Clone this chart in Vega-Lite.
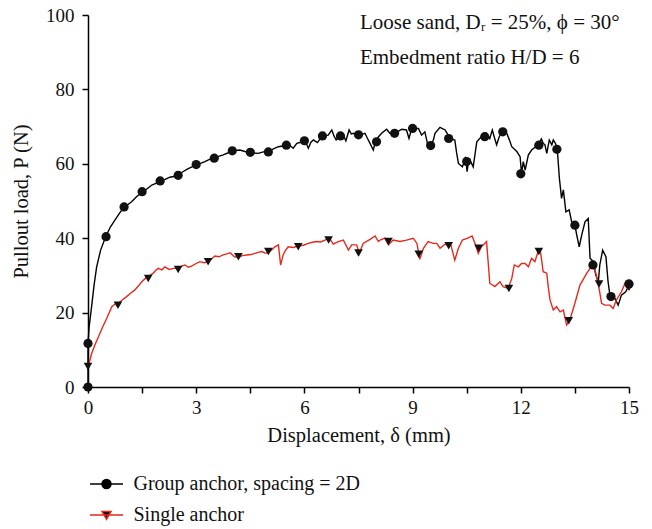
{
  "$schema": "https://vega.github.io/schema/vega-lite/v6.json",
  "width": 541,
  "height": 372,
  "autosize": {"type": "none"},
  "padding": {"left": 88, "top": 15, "right": 23, "bottom": 142},
  "background": "white",
  "config": {
    "font": "Liberation Serif",
    "view": {"stroke": null},
    "axis": {
      "grid": false,
      "domainColor": "#000",
      "domainWidth": 1.5,
      "tickColor": "#000",
      "tickWidth": 1.5,
      "tickSize": 6,
      "labelFont": "Liberation Serif",
      "labelFontSize": 19,
      "labelColor": "#111",
      "labelFlush": false,
      "titleFont": "Liberation Serif",
      "titleFontSize": 20.5,
      "titleFontWeight": "normal",
      "titleColor": "#111",
      "labelOverlap": false
    },
    "legend": {
      "labelFont": "Liberation Serif",
      "labelFontSize": 20,
      "labelColor": "#111",
      "labelLimit": 400
    }
  },
  "datasets": {
    "lines": [
      {"s":"Group anchor, spacing = 2D","x":0,"y":0},{"s":"Group anchor, spacing = 2D","x":0,"y":11.7},{"s":"Group anchor, spacing = 2D","x":0.03,"y":16},{"s":"Group anchor, spacing = 2D","x":0.1,"y":21.6},{"s":"Group anchor, spacing = 2D","x":0.17,"y":27.5},{"s":"Group anchor, spacing = 2D","x":0.24,"y":32.3},{"s":"Group anchor, spacing = 2D","x":0.35,"y":36.8},{"s":"Group anchor, spacing = 2D","x":0.49,"y":40.4},{"s":"Group anchor, spacing = 2D","x":0.62,"y":43},{"s":"Group anchor, spacing = 2D","x":0.75,"y":44.9},{"s":"Group anchor, spacing = 2D","x":0.88,"y":46.8},{"s":"Group anchor, spacing = 2D","x":1.0,"y":48.3},{"s":"Group anchor, spacing = 2D","x":1.1,"y":49},{"s":"Group anchor, spacing = 2D","x":1.21,"y":49.8},{"s":"Group anchor, spacing = 2D","x":1.35,"y":51.2},{"s":"Group anchor, spacing = 2D","x":1.5,"y":52.3},{"s":"Group anchor, spacing = 2D","x":1.64,"y":53.3},{"s":"Group anchor, spacing = 2D","x":1.77,"y":54.3},{"s":"Group anchor, spacing = 2D","x":1.9,"y":54.8},{"s":"Group anchor, spacing = 2D","x":2.01,"y":55.4},{"s":"Group anchor, spacing = 2D","x":2.14,"y":55.8},{"s":"Group anchor, spacing = 2D","x":2.27,"y":56.4},{"s":"Group anchor, spacing = 2D","x":2.38,"y":56.6},{"s":"Group anchor, spacing = 2D","x":2.5,"y":57.0},{"s":"Group anchor, spacing = 2D","x":2.62,"y":57.8},{"s":"Group anchor, spacing = 2D","x":2.74,"y":58.5},{"s":"Group anchor, spacing = 2D","x":2.88,"y":59.2},{"s":"Group anchor, spacing = 2D","x":3.01,"y":59.9},{"s":"Group anchor, spacing = 2D","x":3.12,"y":60.1},{"s":"Group anchor, spacing = 2D","x":3.24,"y":60.6},{"s":"Group anchor, spacing = 2D","x":3.37,"y":61.2},{"s":"Group anchor, spacing = 2D","x":3.5,"y":61.5},{"s":"Group anchor, spacing = 2D","x":3.62,"y":62.0},{"s":"Group anchor, spacing = 2D","x":3.75,"y":62.4},{"s":"Group anchor, spacing = 2D","x":3.87,"y":62.9},{"s":"Group anchor, spacing = 2D","x":3.98,"y":63.4},{"s":"Group anchor, spacing = 2D","x":4.1,"y":63.6},{"s":"Group anchor, spacing = 2D","x":4.21,"y":63.7},{"s":"Group anchor, spacing = 2D","x":4.35,"y":63.3},{"s":"Group anchor, spacing = 2D","x":4.49,"y":63.1},{"s":"Group anchor, spacing = 2D","x":4.6,"y":62.9},{"s":"Group anchor, spacing = 2D","x":4.72,"y":62.8},{"s":"Group anchor, spacing = 2D","x":4.86,"y":63.2},{"s":"Group anchor, spacing = 2D","x":5.0,"y":63.3},{"s":"Group anchor, spacing = 2D","x":5.14,"y":64.0},{"s":"Group anchor, spacing = 2D","x":5.28,"y":64.6},{"s":"Group anchor, spacing = 2D","x":5.4,"y":64.8},{"s":"Group anchor, spacing = 2D","x":5.51,"y":65.1},{"s":"Group anchor, spacing = 2D","x":5.6,"y":64.9},{"s":"Group anchor, spacing = 2D","x":5.69,"y":64.2},{"s":"Group anchor, spacing = 2D","x":5.79,"y":65.5},{"s":"Group anchor, spacing = 2D","x":5.9,"y":65.8},{"s":"Group anchor, spacing = 2D","x":6.02,"y":66.2},{"s":"Group anchor, spacing = 2D","x":6.11,"y":64.2},{"s":"Group anchor, spacing = 2D","x":6.18,"y":65.8},{"s":"Group anchor, spacing = 2D","x":6.25,"y":66.4},{"s":"Group anchor, spacing = 2D","x":6.36,"y":65.7},{"s":"Group anchor, spacing = 2D","x":6.45,"y":66.9},{"s":"Group anchor, spacing = 2D","x":6.51,"y":67.5},{"s":"Group anchor, spacing = 2D","x":6.66,"y":67.7},{"s":"Group anchor, spacing = 2D","x":6.76,"y":69.1},{"s":"Group anchor, spacing = 2D","x":6.82,"y":67.5},{"s":"Group anchor, spacing = 2D","x":6.88,"y":66.4},{"s":"Group anchor, spacing = 2D","x":6.95,"y":67.4},{"s":"Group anchor, spacing = 2D","x":7.03,"y":67.7},{"s":"Group anchor, spacing = 2D","x":7.1,"y":67.2},{"s":"Group anchor, spacing = 2D","x":7.15,"y":66.2},{"s":"Group anchor, spacing = 2D","x":7.24,"y":69.1},{"s":"Group anchor, spacing = 2D","x":7.3,"y":68.0},{"s":"Group anchor, spacing = 2D","x":7.37,"y":68.2},{"s":"Group anchor, spacing = 2D","x":7.45,"y":67.5},{"s":"Group anchor, spacing = 2D","x":7.52,"y":67.7},{"s":"Group anchor, spacing = 2D","x":7.6,"y":67.9},{"s":"Group anchor, spacing = 2D","x":7.68,"y":68.2},{"s":"Group anchor, spacing = 2D","x":7.75,"y":66.8},{"s":"Group anchor, spacing = 2D","x":7.82,"y":65.5},{"s":"Group anchor, spacing = 2D","x":7.91,"y":63.7},{"s":"Group anchor, spacing = 2D","x":7.96,"y":65.5},{"s":"Group anchor, spacing = 2D","x":8.0,"y":66.4},{"s":"Group anchor, spacing = 2D","x":8.05,"y":67.2},{"s":"Group anchor, spacing = 2D","x":8.14,"y":68.2},{"s":"Group anchor, spacing = 2D","x":8.28,"y":69.3},{"s":"Group anchor, spacing = 2D","x":8.37,"y":68.2},{"s":"Group anchor, spacing = 2D","x":8.44,"y":68.0},{"s":"Group anchor, spacing = 2D","x":8.51,"y":68.2},{"s":"Group anchor, spacing = 2D","x":8.6,"y":68.7},{"s":"Group anchor, spacing = 2D","x":8.7,"y":69.3},{"s":"Group anchor, spacing = 2D","x":8.83,"y":69.1},{"s":"Group anchor, spacing = 2D","x":8.9,"y":66.8},{"s":"Group anchor, spacing = 2D","x":8.99,"y":70.0},{"s":"Group anchor, spacing = 2D","x":9.07,"y":69.6},{"s":"Group anchor, spacing = 2D","x":9.16,"y":69.5},{"s":"Group anchor, spacing = 2D","x":9.25,"y":67.7},{"s":"Group anchor, spacing = 2D","x":9.34,"y":68.6},{"s":"Group anchor, spacing = 2D","x":9.42,"y":65.1},{"s":"Group anchor, spacing = 2D","x":9.51,"y":64.8},{"s":"Group anchor, spacing = 2D","x":9.58,"y":66.5},{"s":"Group anchor, spacing = 2D","x":9.62,"y":68.2},{"s":"Group anchor, spacing = 2D","x":9.76,"y":69.8},{"s":"Group anchor, spacing = 2D","x":9.9,"y":69.1},{"s":"Group anchor, spacing = 2D","x":9.97,"y":68.0},{"s":"Group anchor, spacing = 2D","x":10.04,"y":66.8},{"s":"Group anchor, spacing = 2D","x":10.17,"y":66.4},{"s":"Group anchor, spacing = 2D","x":10.22,"y":63},{"s":"Group anchor, spacing = 2D","x":10.27,"y":60.1},{"s":"Group anchor, spacing = 2D","x":10.38,"y":59.2},{"s":"Group anchor, spacing = 2D","x":10.43,"y":60.5},{"s":"Group anchor, spacing = 2D","x":10.47,"y":61.9},{"s":"Group anchor, spacing = 2D","x":10.51,"y":57.9},{"s":"Group anchor, spacing = 2D","x":10.55,"y":60.5},{"s":"Group anchor, spacing = 2D","x":10.59,"y":61.0},{"s":"Group anchor, spacing = 2D","x":10.68,"y":59.2},{"s":"Group anchor, spacing = 2D","x":10.73,"y":62.5},{"s":"Group anchor, spacing = 2D","x":10.78,"y":65.9},{"s":"Group anchor, spacing = 2D","x":10.91,"y":67.3},{"s":"Group anchor, spacing = 2D","x":11.05,"y":68.2},{"s":"Group anchor, spacing = 2D","x":11.14,"y":66.8},{"s":"Group anchor, spacing = 2D","x":11.21,"y":69.1},{"s":"Group anchor, spacing = 2D","x":11.27,"y":67.0},{"s":"Group anchor, spacing = 2D","x":11.33,"y":65.1},{"s":"Group anchor, spacing = 2D","x":11.4,"y":67.2},{"s":"Group anchor, spacing = 2D","x":11.47,"y":68.6},{"s":"Group anchor, spacing = 2D","x":11.54,"y":68.5},{"s":"Group anchor, spacing = 2D","x":11.61,"y":68.2},{"s":"Group anchor, spacing = 2D","x":11.68,"y":66.5},{"s":"Group anchor, spacing = 2D","x":11.75,"y":64.6},{"s":"Group anchor, spacing = 2D","x":11.89,"y":63.3},{"s":"Group anchor, spacing = 2D","x":11.98,"y":61.9},{"s":"Group anchor, spacing = 2D","x":12.02,"y":57.4},{"s":"Group anchor, spacing = 2D","x":12.07,"y":60.6},{"s":"Group anchor, spacing = 2D","x":12.12,"y":58.3},{"s":"Group anchor, spacing = 2D","x":12.21,"y":62.4},{"s":"Group anchor, spacing = 2D","x":12.3,"y":63.7},{"s":"Group anchor, spacing = 2D","x":12.4,"y":64.5},{"s":"Group anchor, spacing = 2D","x":12.48,"y":65.1},{"s":"Group anchor, spacing = 2D","x":12.57,"y":66.7},{"s":"Group anchor, spacing = 2D","x":12.62,"y":65.5},{"s":"Group anchor, spacing = 2D","x":12.67,"y":65.1},{"s":"Group anchor, spacing = 2D","x":12.72,"y":62.8},{"s":"Group anchor, spacing = 2D","x":12.79,"y":66.4},{"s":"Group anchor, spacing = 2D","x":12.86,"y":65.1},{"s":"Group anchor, spacing = 2D","x":12.9,"y":66.4},{"s":"Group anchor, spacing = 2D","x":12.96,"y":65.5},{"s":"Group anchor, spacing = 2D","x":13.01,"y":64.2},{"s":"Group anchor, spacing = 2D","x":13.07,"y":56.1},{"s":"Group anchor, spacing = 2D","x":13.13,"y":50.7},{"s":"Group anchor, spacing = 2D","x":13.18,"y":53.0},{"s":"Group anchor, spacing = 2D","x":13.25,"y":47.1},{"s":"Group anchor, spacing = 2D","x":13.34,"y":47.6},{"s":"Group anchor, spacing = 2D","x":13.41,"y":44.4},{"s":"Group anchor, spacing = 2D","x":13.5,"y":43.5},{"s":"Group anchor, spacing = 2D","x":13.55,"y":40.9},{"s":"Group anchor, spacing = 2D","x":13.62,"y":37.7},{"s":"Group anchor, spacing = 2D","x":13.69,"y":40.9},{"s":"Group anchor, spacing = 2D","x":13.78,"y":44.4},{"s":"Group anchor, spacing = 2D","x":13.87,"y":45.3},{"s":"Group anchor, spacing = 2D","x":13.92,"y":34.6},{"s":"Group anchor, spacing = 2D","x":14.01,"y":33.7},{"s":"Group anchor, spacing = 2D","x":14.08,"y":30.1},{"s":"Group anchor, spacing = 2D","x":14.15,"y":28.3},{"s":"Group anchor, spacing = 2D","x":14.19,"y":32.8},{"s":"Group anchor, spacing = 2D","x":14.27,"y":36.8},{"s":"Group anchor, spacing = 2D","x":14.36,"y":35.0},{"s":"Group anchor, spacing = 2D","x":14.42,"y":28.3},{"s":"Group anchor, spacing = 2D","x":14.47,"y":24.7},{"s":"Group anchor, spacing = 2D","x":14.61,"y":23.8},{"s":"Group anchor, spacing = 2D","x":14.7,"y":22.0},{"s":"Group anchor, spacing = 2D","x":14.79,"y":24.7},{"s":"Group anchor, spacing = 2D","x":14.91,"y":25.6},{"s":"Group anchor, spacing = 2D","x":15.0,"y":27.4},
      {"s":"Single anchor","x":0,"y":5.2},{"s":"Single anchor","x":0.1,"y":9.0},{"s":"Single anchor","x":0.2,"y":11.5},{"s":"Single anchor","x":0.29,"y":13.5},{"s":"Single anchor","x":0.4,"y":16},{"s":"Single anchor","x":0.52,"y":18.5},{"s":"Single anchor","x":0.66,"y":21.6},{"s":"Single anchor","x":0.75,"y":22.3},{"s":"Single anchor","x":0.84,"y":22.5},{"s":"Single anchor","x":0.95,"y":23.4},{"s":"Single anchor","x":1.07,"y":24.3},{"s":"Single anchor","x":1.18,"y":25.2},{"s":"Single anchor","x":1.3,"y":26.1},{"s":"Single anchor","x":1.4,"y":27.2},{"s":"Single anchor","x":1.49,"y":28.3},{"s":"Single anchor","x":1.57,"y":29.0},{"s":"Single anchor","x":1.65,"y":29.7},{"s":"Single anchor","x":1.73,"y":30.1},{"s":"Single anchor","x":1.81,"y":30.6},{"s":"Single anchor","x":1.88,"y":31.4},{"s":"Single anchor","x":1.95,"y":31.9},{"s":"Single anchor","x":2.05,"y":31.5},{"s":"Single anchor","x":2.13,"y":32.3},{"s":"Single anchor","x":2.25,"y":31.6},{"s":"Single anchor","x":2.37,"y":31.9},{"s":"Single anchor","x":2.5,"y":31.9},{"s":"Single anchor","x":2.6,"y":32.5},{"s":"Single anchor","x":2.69,"y":32.8},{"s":"Single anchor","x":2.78,"y":32.2},{"s":"Single anchor","x":2.87,"y":32.5},{"s":"Single anchor","x":3.0,"y":33.2},{"s":"Single anchor","x":3.1,"y":33.7},{"s":"Single anchor","x":3.22,"y":33.4},{"s":"Single anchor","x":3.34,"y":33.7},{"s":"Single anchor","x":3.43,"y":34.5},{"s":"Single anchor","x":3.52,"y":35.2},{"s":"Single anchor","x":3.63,"y":35.0},{"s":"Single anchor","x":3.75,"y":35.5},{"s":"Single anchor","x":3.85,"y":35.8},{"s":"Single anchor","x":3.94,"y":36.1},{"s":"Single anchor","x":4.06,"y":35.0},{"s":"Single anchor","x":4.17,"y":34.9},{"s":"Single anchor","x":4.28,"y":35.3},{"s":"Single anchor","x":4.4,"y":35.5},{"s":"Single anchor","x":4.52,"y":35.6},{"s":"Single anchor","x":4.63,"y":35.9},{"s":"Single anchor","x":4.72,"y":36.2},{"s":"Single anchor","x":4.82,"y":36.4},{"s":"Single anchor","x":4.91,"y":36.0},{"s":"Single anchor","x":5.0,"y":36.1},{"s":"Single anchor","x":5.09,"y":36.8},{"s":"Single anchor","x":5.18,"y":37.7},{"s":"Single anchor","x":5.28,"y":38.2},{"s":"Single anchor","x":5.34,"y":32.8},{"s":"Single anchor","x":5.41,"y":35.5},{"s":"Single anchor","x":5.48,"y":36.8},{"s":"Single anchor","x":5.55,"y":37.7},{"s":"Single anchor","x":5.69,"y":37.5},{"s":"Single anchor","x":5.83,"y":37.9},{"s":"Single anchor","x":5.97,"y":38.1},{"s":"Single anchor","x":6.11,"y":38.6},{"s":"Single anchor","x":6.22,"y":38.9},{"s":"Single anchor","x":6.34,"y":39.1},{"s":"Single anchor","x":6.45,"y":39.0},{"s":"Single anchor","x":6.57,"y":39.5},{"s":"Single anchor","x":6.69,"y":40.0},{"s":"Single anchor","x":6.8,"y":38.4},{"s":"Single anchor","x":6.94,"y":39.1},{"s":"Single anchor","x":7.08,"y":39.5},{"s":"Single anchor","x":7.22,"y":36.8},{"s":"Single anchor","x":7.31,"y":38.2},{"s":"Single anchor","x":7.45,"y":38.2},{"s":"Single anchor","x":7.52,"y":35.9},{"s":"Single anchor","x":7.63,"y":38.6},{"s":"Single anchor","x":7.82,"y":39.7},{"s":"Single anchor","x":7.96,"y":40.6},{"s":"Single anchor","x":8.05,"y":39.1},{"s":"Single anchor","x":8.1,"y":39.5},{"s":"Single anchor","x":8.23,"y":40.0},{"s":"Single anchor","x":8.33,"y":38.2},{"s":"Single anchor","x":8.46,"y":39.5},{"s":"Single anchor","x":8.65,"y":39.1},{"s":"Single anchor","x":8.83,"y":39.5},{"s":"Single anchor","x":9.02,"y":40.0},{"s":"Single anchor","x":9.12,"y":38.6},{"s":"Single anchor","x":9.2,"y":34.3},{"s":"Single anchor","x":9.3,"y":37.3},{"s":"Single anchor","x":9.43,"y":39.1},{"s":"Single anchor","x":9.57,"y":38.6},{"s":"Single anchor","x":9.67,"y":38.6},{"s":"Single anchor","x":9.76,"y":37.3},{"s":"Single anchor","x":9.9,"y":38.4},{"s":"Single anchor","x":10.06,"y":38.2},{"s":"Single anchor","x":10.12,"y":36},{"s":"Single anchor","x":10.17,"y":34.1},{"s":"Single anchor","x":10.27,"y":37.3},{"s":"Single anchor","x":10.38,"y":39.5},{"s":"Single anchor","x":10.53,"y":40.0},{"s":"Single anchor","x":10.65,"y":40.6},{"s":"Single anchor","x":10.73,"y":38.6},{"s":"Single anchor","x":10.82,"y":35.9},{"s":"Single anchor","x":10.91,"y":37.7},{"s":"Single anchor","x":11.05,"y":39.1},{"s":"Single anchor","x":11.1,"y":33},{"s":"Single anchor","x":11.14,"y":27.9},{"s":"Single anchor","x":11.28,"y":27.0},{"s":"Single anchor","x":11.42,"y":28.3},{"s":"Single anchor","x":11.51,"y":27.0},{"s":"Single anchor","x":11.65,"y":26.5},{"s":"Single anchor","x":11.75,"y":29.2},{"s":"Single anchor","x":11.82,"y":32.8},{"s":"Single anchor","x":11.93,"y":32.3},{"s":"Single anchor","x":12.02,"y":33.2},{"s":"Single anchor","x":12.12,"y":33.2},{"s":"Single anchor","x":12.21,"y":32.3},{"s":"Single anchor","x":12.3,"y":34.6},{"s":"Single anchor","x":12.39,"y":33.7},{"s":"Single anchor","x":12.48,"y":36.4},{"s":"Single anchor","x":12.55,"y":36.1},{"s":"Single anchor","x":12.62,"y":31.0},{"s":"Single anchor","x":12.72,"y":30.6},{"s":"Single anchor","x":12.76,"y":27},{"s":"Single anchor","x":12.81,"y":23.4},{"s":"Single anchor","x":12.9,"y":20.7},{"s":"Single anchor","x":12.99,"y":21.6},{"s":"Single anchor","x":13.09,"y":20.2},{"s":"Single anchor","x":13.18,"y":20.7},{"s":"Single anchor","x":13.27,"y":16.7},{"s":"Single anchor","x":13.36,"y":18.0},{"s":"Single anchor","x":13.5,"y":22.5},{"s":"Single anchor","x":13.64,"y":27.4},{"s":"Single anchor","x":13.83,"y":30.6},{"s":"Single anchor","x":13.99,"y":32.8},{"s":"Single anchor","x":14.08,"y":30.6},{"s":"Single anchor","x":14.17,"y":26.5},{"s":"Single anchor","x":14.24,"y":22.5},{"s":"Single anchor","x":14.33,"y":22.0},{"s":"Single anchor","x":14.47,"y":22.0},{"s":"Single anchor","x":14.56,"y":21.1},{"s":"Single anchor","x":14.65,"y":23.4},{"s":"Single anchor","x":14.79,"y":25.6},{"s":"Single anchor","x":14.91,"y":28.3},{"s":"Single anchor","x":14.97,"y":26.1}
    ],
    "markers": [
      {"s":"Group anchor, spacing = 2D","x":0,"y":0},{"s":"Group anchor, spacing = 2D","x":0,"y":11.7},{"s":"Group anchor, spacing = 2D","x":0.5,"y":40.4},{"s":"Group anchor, spacing = 2D","x":1.0,"y":48.4},{"s":"Group anchor, spacing = 2D","x":1.5,"y":52.5},{"s":"Group anchor, spacing = 2D","x":2.0,"y":55.4},{"s":"Group anchor, spacing = 2D","x":2.5,"y":56.9},{"s":"Group anchor, spacing = 2D","x":3.0,"y":59.8},{"s":"Group anchor, spacing = 2D","x":3.5,"y":61.5},{"s":"Group anchor, spacing = 2D","x":4.0,"y":63.5},{"s":"Group anchor, spacing = 2D","x":4.5,"y":63.1},{"s":"Group anchor, spacing = 2D","x":5.0,"y":63.2},{"s":"Group anchor, spacing = 2D","x":5.5,"y":65.0},{"s":"Group anchor, spacing = 2D","x":6.0,"y":66.2},{"s":"Group anchor, spacing = 2D","x":6.5,"y":67.5},{"s":"Group anchor, spacing = 2D","x":7.0,"y":67.5},{"s":"Group anchor, spacing = 2D","x":7.5,"y":67.8},{"s":"Group anchor, spacing = 2D","x":8.0,"y":65.9},{"s":"Group anchor, spacing = 2D","x":8.5,"y":68.2},{"s":"Group anchor, spacing = 2D","x":9.0,"y":69.5},{"s":"Group anchor, spacing = 2D","x":9.5,"y":64.9},{"s":"Group anchor, spacing = 2D","x":10.0,"y":66.8},{"s":"Group anchor, spacing = 2D","x":10.5,"y":60.6},{"s":"Group anchor, spacing = 2D","x":11.0,"y":67.3},{"s":"Group anchor, spacing = 2D","x":11.5,"y":68.6},{"s":"Group anchor, spacing = 2D","x":12.0,"y":57.3},{"s":"Group anchor, spacing = 2D","x":12.5,"y":65.0},{"s":"Group anchor, spacing = 2D","x":13.0,"y":63.9},{"s":"Group anchor, spacing = 2D","x":13.5,"y":43.5},{"s":"Group anchor, spacing = 2D","x":14.0,"y":32.8},{"s":"Group anchor, spacing = 2D","x":14.5,"y":24.3},{"s":"Group anchor, spacing = 2D","x":15.0,"y":27.7},
      {"s":"Single anchor","x":0,"y":5.5},{"s":"Single anchor","x":0.83,"y":22.0},{"s":"Single anchor","x":1.67,"y":29.2},{"s":"Single anchor","x":2.5,"y":31.6},{"s":"Single anchor","x":3.33,"y":33.7},{"s":"Single anchor","x":4.17,"y":35.0},{"s":"Single anchor","x":5.0,"y":36.4},{"s":"Single anchor","x":5.83,"y":37.7},{"s":"Single anchor","x":6.67,"y":39.5},{"s":"Single anchor","x":7.5,"y":36.0},{"s":"Single anchor","x":8.33,"y":39.1},{"s":"Single anchor","x":9.17,"y":35.7},{"s":"Single anchor","x":10.0,"y":38.0},{"s":"Single anchor","x":10.83,"y":37.3},{"s":"Single anchor","x":11.67,"y":26.5},{"s":"Single anchor","x":12.5,"y":36.4},{"s":"Single anchor","x":13.33,"y":17.8},{"s":"Single anchor","x":14.17,"y":27.7},{"s":"Single anchor","x":15.0,"y":26.8}
    ],
    "notes": [
      {"t":"Loose sand, Dᵣ = 25%, ϕ = 30°","x":7.54,"y":97.8},
      {"t":"Embedment ratio H/D = 6","x":7.54,"y":88.5}
    ]
  },
  "layer": [
    {
      "data": {"name": "lines"},
      "mark": {"type": "line", "strokeWidth": 1.4, "interpolate": "linear"},
      "encoding": {
        "x": {"field": "x", "type": "quantitative", "scale": {"domain": [0, 15], "nice": false, "zero": false},
          "axis": {"title": "Displacement, δ (mm)", "values": [0,1.5,3,4.5,6,7.5,9,10.5,12,13.5,15], "labelExpr": "datum.value % 3 === 0 ? datum.label : ''", "labelPadding": 5, "titleY": 38, "titleBaseline": "top"}},
        "y": {"field": "y", "type": "quantitative", "scale": {"domain": [0, 100], "nice": false},
          "axis": {"title": "Pullout load, P (N)", "values": [0,10,20,30,40,50,60,70,80,90,100], "labelExpr": "datum.value % 20 === 0 ? datum.label : ''", "labelPadding": 8, "titleX": -57, "titleY": 186}},
        "color": {"field": "s", "type": "nominal",
          "scale": {"domain": ["Group anchor, spacing = 2D", "Single anchor"], "range": ["#000000", "#e5291c"]},
          "legend": {
            "title": null, "orient": "none", "legendX": 7.5, "legendY": 458, "direction": "vertical",
            "symbolSize": 400, "symbolStrokeWidth": 1.5, "labelOffset": 16, "rowPadding": 10,
            "encode": {"symbols": {"update": {
              "shape": {"signal": "datum.value === 'Single anchor' ? 'M-1.65,0H1.65M-0.45,-0.35H0.45L0,0.42Z' : 'M-1.65,0H1.65M0.45,0A0.45,0.45 0 1,1 -0.45,0A0.45,0.45 0 1,1 0.45,0Z'"},
              "fill": {"value": "#000"}
            }}}
          }},
        "order": {"field": "x", "type": "quantitative"}
      }
    },
    {
      "data": {"name": "markers"},
      "transform": [{"filter": "datum.s === 'Group anchor, spacing = 2D'"}],
      "mark": {"type": "point", "filled": true, "opacity": 1, "color": "#111", "size": 85, "shape": "circle"},
      "encoding": {
        "x": {"field": "x", "type": "quantitative"},
        "y": {"field": "y", "type": "quantitative"}
      }
    },
    {
      "data": {"name": "markers"},
      "transform": [{"filter": "datum.s === 'Single anchor'"}],
      "mark": {"type": "point", "filled": true, "opacity": 1, "color": "#111", "size": 75, "shape": "triangle-down"},
      "encoding": {
        "x": {"field": "x", "type": "quantitative"},
        "y": {"field": "y", "type": "quantitative"}
      }
    },
    {
      "data": {"name": "notes"},
      "mark": {"type": "text", "align": "left", "baseline": "middle", "fontSize": 21, "font": "Liberation Serif", "color": "#111"},
      "encoding": {
        "x": {"field": "x", "type": "quantitative"},
        "y": {"field": "y", "type": "quantitative"},
        "text": {"field": "t"}
      }
    }
  ]
}
